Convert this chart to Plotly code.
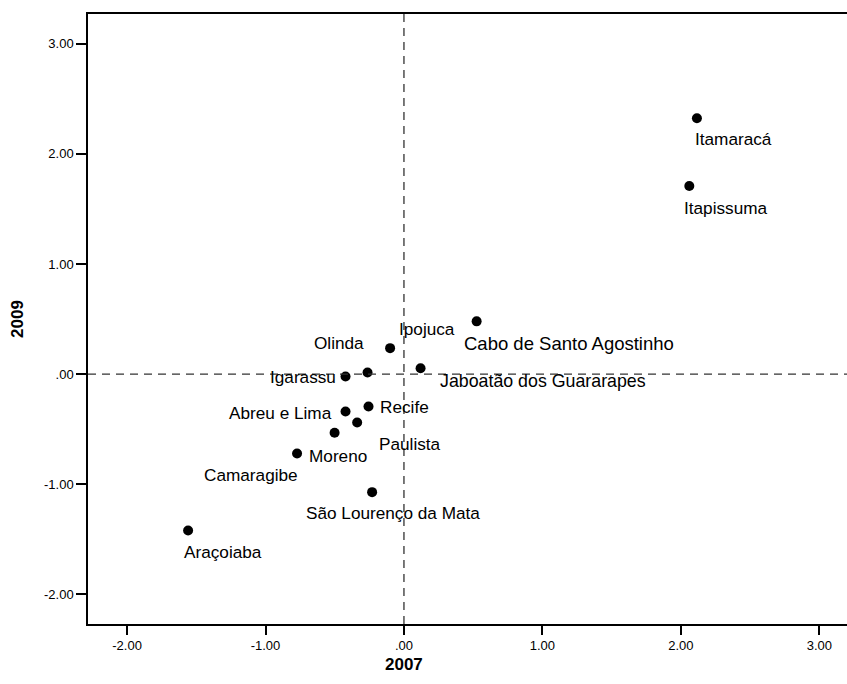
import plotly.graph_objects as go

# ---- data ----
municipios = ["Itamaracá", "Itapissuma", "Cabo de Santo Agostinho", "Ipojuca", "Olinda",
              "Jaboatão dos Guararapes", "Igarassu", "Recife", "Abreu e Lima", "Paulista",
              "Moreno", "Camaragibe", "São Lourenço da Mata", "Araçoiaba"]
valores_2007 = [2.116, 2.061, 0.525, -0.100, -0.263, 0.120, -0.422, -0.256, -0.422, -0.338,
                -0.501, -0.772, -0.230, -1.559]
valores_2009 = [2.322, 1.707, 0.479, 0.236, 0.015, 0.054, -0.021, -0.293, -0.339, -0.439,
                -0.532, -0.720, -1.071, -1.419]
tick_vals = [-2, -1, 0, 1, 2, 3]
tick_text = ["-2.00", "-1.00", ".00", "1.00", "2.00", "3.00"]

# label offsets in pixels (left edge dx, downward dy) - layout only
label_offsets = {
    "Itamaracá": (-3, 21), "Itapissuma": (-6, 22), "Cabo de Santo Agostinho": (-14, 22),
    "Ipojuca": (8, -19), "Olinda": (-55, -29), "Jaboatão dos Guararapes": (18, 13),
    "Igarassu": (-77, 1), "Recife": (10, 1), "Abreu e Lima": (-118, 2),
    "Paulista": (21, 21), "Moreno": (-27, 23), "Camaragibe": (-94, 22),
    "São Lourenço da Mata": (-67, 21), "Araçoiaba": (-5, 22),
}
label_sizes = {"Cabo de Santo Agostinho": 18.5, "Jaboatão dos Guararapes": 17.8}

FONT = "Liberation Sans, Arial, sans-serif"

fig = go.Figure()
fig.add_trace(go.Scatter(
    x=valores_2007, y=valores_2009, mode="markers", text=municipios,
    marker=dict(color="black", size=10, line=dict(width=0)),
    hovertemplate="%{text}<br>2007: %{x:.2f}<br>2009: %{y:.2f}<extra></extra>",
))

for name, xv, yv in zip(municipios, valores_2007, valores_2009):
    dx, dy = label_offsets[name]
    fig.add_annotation(x=xv, y=yv, xref="x", yref="y", text=name, showarrow=False,
                       xanchor="left", yanchor="middle", xshift=dx, yshift=-dy,
                       borderpad=0,
                       font=dict(family=FONT, size=label_sizes.get(name, 17.2), color="black"))

# reference lines at zero
fig.add_shape(type="line", xref="x", yref="paper", x0=0, x1=0, y0=0, y1=1,
              line=dict(color="#333333", width=1.3, dash="8px,6px"))
fig.add_shape(type="line", xref="paper", yref="y", x0=0, x1=1, y0=0, y1=0,
              line=dict(color="#333333", width=1.3, dash="8px,6px"))

# axis titles
fig.add_annotation(text="<b>2007</b>", xref="paper", yref="paper", x=0.416, y=0,
                   yshift=-29, yanchor="top", showarrow=False,
                   font=dict(family=FONT, size=17, color="black"))

fig.update_layout(
    width=847, height=684,
    margin=dict(l=88, r=0, t=14, b=60),
    paper_bgcolor="white", plot_bgcolor="white",
    showlegend=False,
    font=dict(family=FONT, color="black"),
)
fig.update_xaxes(range=[-2.282, 3.20], tickvals=tick_vals, ticktext=tick_text,
                 showgrid=False, zeroline=False, showline=True, linecolor="black",
                 linewidth=1.5, mirror=True, ticks="outside", ticklen=9, tickwidth=1.5,
                 tickcolor="black", tickfont=dict(family=FONT, size=13, color="black"))
fig.update_yaxes(range=[-2.268, 3.269], tickvals=tick_vals, ticktext=tick_text,
                 showgrid=False, zeroline=False, showline=True, linecolor="black",
                 linewidth=1.5, ticks="outside", ticklen=10, tickwidth=1.5,
                 tickcolor="black", tickfont=dict(family=FONT, size=13, color="black"),
                 title=dict(text="<b>2009</b>", standoff=16,
                            font=dict(family=FONT, size=17, color="black")))

fig.write_html("out.html")
